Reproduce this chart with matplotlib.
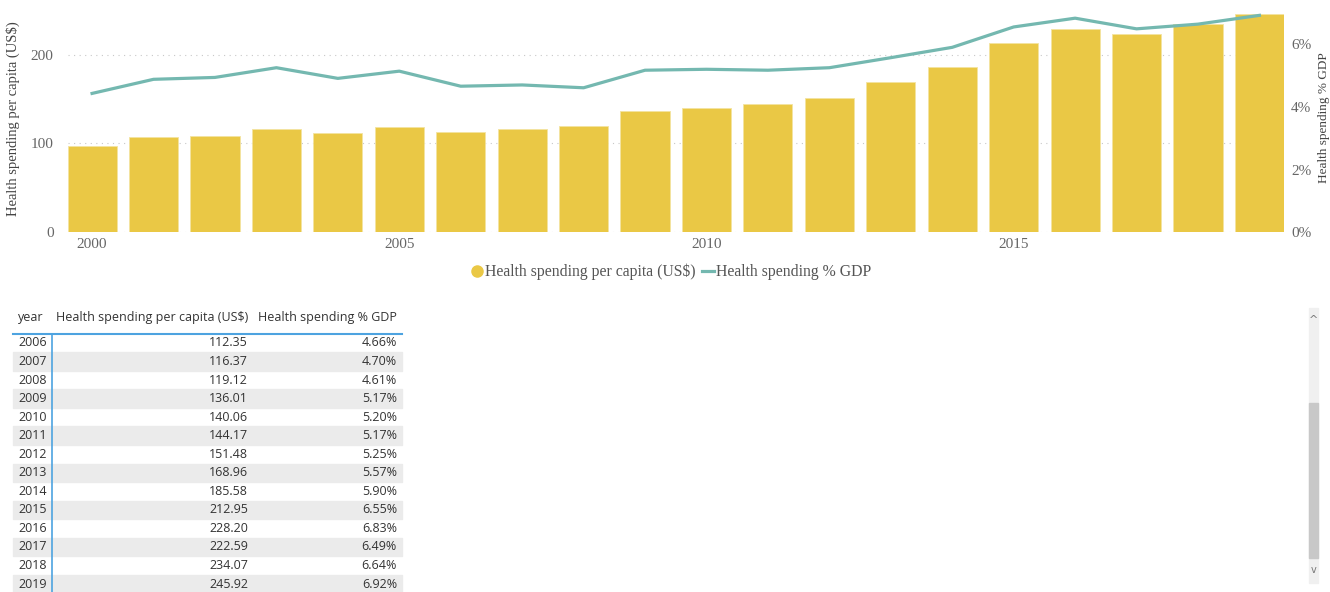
import matplotlib
matplotlib.use("Agg")
import matplotlib.pyplot as plt
from matplotlib.lines import Line2D
from matplotlib.patches import Rectangle

years = list(range(2000, 2020))
per_capita = [97.4, 106.9, 108.7, 116.5, 111.4, 118.8,
              112.35, 116.37, 119.12, 136.01, 140.06, 144.17, 151.48,
              168.96, 185.58, 212.95, 228.20, 222.59, 234.07, 245.92]
pct_gdp = [4.43, 4.88, 4.94, 5.25, 4.91, 5.14,
           4.66, 4.70, 4.61, 5.17, 5.20, 5.17, 5.25,
           5.57, 5.90, 6.55, 6.83, 6.49, 6.64, 6.92]
x_ticks = [2000, 2005, 2010, 2015]
left_ticks = [0, 100, 200]
right_ticks = [0, 2, 4, 6]
table_first_year = 2006
table_headers = ["year", "Health spending per capita (US$)", "Health spending % GDP"]
bar_label = "Health spending per capita (US$)"
line_label = "Health spending % GDP"

BAR_C = "#EAC845"
LINE_C = "#74B8B0"
TICK_C = "#666666"
SERIF = ["Liberation Serif", "DejaVu Serif"]
SANS = ["Open Sans", "DejaVu Sans"]

W, H = 1330, 592
fig = plt.figure(figsize=(W / 100, H / 100), dpi=100)

def fx(px):
    return px / W

def fy(py):
    return 1 - py / H

ax_l, ax_r, ax_t, ax_b = 67.5, 1284, 5, 232.3
ax = fig.add_axes([fx(ax_l), fy(ax_b), fx(ax_r - ax_l), (ax_b - ax_t) / H])
ax.bar(years, per_capita, width=0.8, color=BAR_C, edgecolor="#F3E3A0", linewidth=0.6, zorder=2)
ax.set_xlim(1999.6, 2019.4)
ax.set_ylim(0, 255.7)
ax.set_yticks(left_ticks)
ax.set_xticks(x_ticks)
for v in left_ticks:
    ax.axhline(v, color="#C8C8C8", linestyle=(0, (1, 4)), linewidth=0.8, zorder=1)
for s in ax.spines.values():
    s.set_visible(False)
ax.tick_params(axis="both", length=0, colors=TICK_C, labelsize=11)
ax.tick_params(axis="y", pad=10)
ax.tick_params(axis="x", pad=4)
for lbl in ax.get_xticklabels() + ax.get_yticklabels():
    lbl.set_family(SERIF)
ax.set_ylabel("Health spending per capita (US$)", family=SERIF, fontsize=10.5, color="#444444")
ax.yaxis.set_label_coords((20 - ax_l) / (ax_r - ax_l), 0.5)

ax2 = ax.twinx()
ax2.plot(years, pct_gdp, color=LINE_C, linewidth=2.3, zorder=3)
ax2.set_ylim(0, (ax_b - ax_t) / 31.35)
ax2.set_yticks(right_ticks)
ax2.set_yticklabels([f"{v}%" for v in right_ticks])
for s in ax2.spines.values():
    s.set_visible(False)
ax2.tick_params(axis="y", length=0, colors=TICK_C, labelsize=11, pad=5)
for lbl in ax2.get_yticklabels():
    lbl.set_family(SERIF)
fig.text(fx(1323.5), fy(118), "Health spending % GDP", rotation=90, ha="center", va="center",
         family=SERIF, fontsize=9.5, color="#444444")

handles = [Line2D([], [], marker="o", linestyle="none", color=BAR_C, markersize=8),
           Line2D([], [], color=LINE_C, linewidth=2.3)]
fig.legend(handles, [bar_label, line_label], loc="center", bbox_to_anchor=(fx(671), fy(272)),
           ncol=2, frameon=False, prop={"family": SERIF, "size": 11.3}, labelcolor="#555555",
           handlelength=0.8, handletextpad=0.1, columnspacing=0.4)

# Table overlay
tab = fig.add_axes([0, 0, 1, 1], zorder=5)
tab.set_xlim(0, W)
tab.set_ylim(H, 0)
tab.axis("off")
tab.patch.set_alpha(0)

FS = 9
hy = 318
tab.text(18, hy, table_headers[0], ha="left", va="center", family=SANS, fontsize=FS, color="#333333")
tab.text(248, hy, table_headers[1], ha="right", va="center", family=SANS, fontsize=FS, color="#333333")
tab.text(397, hy, table_headers[2], ha="right", va="center", family=SANS, fontsize=FS, color="#333333")
tab.plot([13, 402], [334, 334], color="#4DA3E0", linewidth=1.5)

row_h = 18.54
y0 = 343
i0 = years.index(table_first_year)
for k, i in enumerate(range(i0, len(years))):
    yc = y0 + k * row_h
    if k % 2 == 1:
        tab.add_patch(Rectangle((13, yc - row_h / 2), 389, row_h, color="#EBEBEB", zorder=0))
    tab.text(18, yc, str(years[i]), ha="left", va="center", family=SANS, fontsize=FS, color="#333333")
    tab.text(248, yc, f"{per_capita[i]:.2f}", ha="right", va="center", family=SANS, fontsize=FS, color="#333333")
    tab.text(397, yc, f"{pct_gdp[i]:.2f}%", ha="right", va="center", family=SANS, fontsize=FS, color="#333333")
tab.plot([52, 52], [334, 592], color="#4DA3E0", linewidth=1.2)

# scrollbar
tab.add_patch(Rectangle((1309, 308), 9, 275, color="#F0F0F0", zorder=1))
tab.add_patch(Rectangle((1309, 403), 9, 155, color="#C8C8C8", zorder=2))
tab.text(1313.5, 320, "^", ha="center", va="center", fontsize=8, color="#777777")
tab.text(1313.5, 570, "v", ha="center", va="center", fontsize=7, color="#777777")

fig.savefig("out.png", dpi=100)
